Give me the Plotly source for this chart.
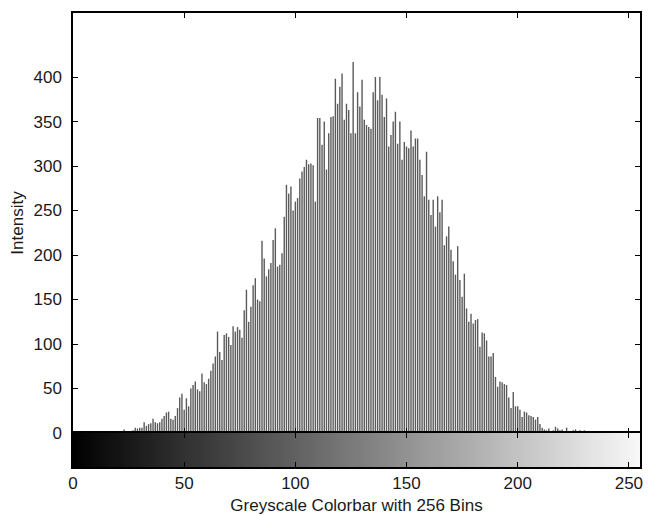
import plotly.graph_objects as go

# Histogram counts for grey levels 0..255
counts_0_19 = [0] * 20
counts_20_59 = [0, 1, 0, 4, 1, 2, 2, 3, 6, 5,
                6, 6, 12, 8, 10, 11, 16, 12, 11, 12,
                16, 19, 23, 24, 16, 15, 19, 28, 40, 44,
                26, 39, 30, 50, 54, 58, 49, 47, 67, 57]
counts_60_99 = [55, 61, 70, 78, 86, 114, 91, 82, 110, 112,
                108, 99, 120, 114, 119, 116, 107, 138, 161, 125,
                142, 166, 174, 150, 148, 216, 196, 176, 184, 191,
                217, 230, 187, 189, 202, 243, 279, 269, 277, 250]
counts_100_139 = [260, 264, 286, 294, 299, 307, 302, 303, 301, 260,
                  354, 354, 324, 350, 296, 337, 355, 356, 398, 370,
                  389, 404, 352, 370, 363, 337, 417, 337, 383, 367,
                  397, 352, 346, 344, 342, 383, 400, 374, 400, 380]
counts_140_179 = [355, 376, 322, 335, 350, 361, 325, 350, 307, 327,
                  322, 320, 340, 322, 331, 331, 307, 290, 266, 316,
                  262, 245, 262, 232, 266, 248, 262, 211, 221, 232,
                  206, 193, 178, 210, 172, 153, 179, 140, 125, 134]
counts_180_219 = [123, 127, 128, 97, 113, 112, 104, 86, 86, 90,
                  63, 52, 58, 57, 55, 54, 40, 28, 46, 30,
                  30, 26, 18, 24, 23, 20, 19, 18, 15, 18,
                  10, 6, 4, 3, 5, 2, 3, 7, 5, 3]
counts_220_255 = [4, 2, 6, 2, 1, 3, 4, 1, 3, 2,
                  3] + [0] * 25

counts = (counts_0_19 + counts_20_59 + counts_60_99 + counts_100_139 +
          counts_140_179 + counts_180_219 + counts_220_255)
bins = list(range(256))
x_ticks = [0, 50, 100, 150, 200, 250]
y_ticks = [0, 50, 100, 150, 200, 250, 300, 350, 400]

# stem lines
sx, sy = [], []
for b, c in zip(bins, counts):
    sx += [b, b, None]
    sy += [0, c, None]

fig = go.Figure()
fig.add_trace(go.Scatter(x=sx, y=sy, mode="lines",
                         line=dict(color="#5a5a5a", width=1.4),
                         xaxis="x", yaxis="y", hoverinfo="skip",
                         showlegend=False))
fig.add_trace(go.Heatmap(z=[bins], x=bins, y=[0],
                         colorscale=[[0, "#000000"], [1, "#f8f8f8"]],
                         showscale=False, xaxis="x2", yaxis="y2"))

font = dict(family="Liberation Sans, Arial, sans-serif", size=17, color="#1a1a1a")
cb_frac = 34 / 454

# page body has an 8px default margin, so the figure is 8px smaller each way
fig.update_layout(
    width=652, height=507,
    margin=dict(l=65, r=20, t=5, b=48),
    paper_bgcolor="white", plot_bgcolor="white",
    font=font,
    xaxis=dict(domain=[0, 1], range=[0, 255], anchor="y", automargin=False,
               tickvals=x_ticks, showticklabels=False,
               ticks="inside", ticklen=5, tickcolor="black",
               showline=True, linecolor="black", linewidth=1.5, mirror="ticks",
               showgrid=False, zeroline=False),
    yaxis=dict(domain=[cb_frac, 1], range=[0, 472], anchor="x", automargin=False,
               tickvals=y_ticks, ticks="inside", ticklen=5, tickcolor="black",
               ticklabelstandoff=6,
               showline=True, linecolor="black", linewidth=1.5, mirror="ticks",
               showgrid=False, zeroline=False,
               title=dict(text="Intensity", standoff=6, font=dict(size=17))),
    xaxis2=dict(domain=[0, 1], range=[0, 255], anchor="y2", automargin=False,
                tickvals=x_ticks, ticks="inside", ticklen=5, tickcolor="black",
                showline=True, linecolor="black", linewidth=1.5, mirror="ticks",
                showgrid=False, zeroline=False,
                title=dict(text="Greyscale Colorbar with 256 Bins", standoff=10,
                           font=dict(size=17))),
    yaxis2=dict(domain=[0, cb_frac], range=[-0.5, 0.5], anchor="x2", automargin=False,
                showticklabels=False, ticks="",
                showline=True, linecolor="black", linewidth=1.5, mirror=True,
                showgrid=False, zeroline=False),
)

fig.write_html("out.html")
